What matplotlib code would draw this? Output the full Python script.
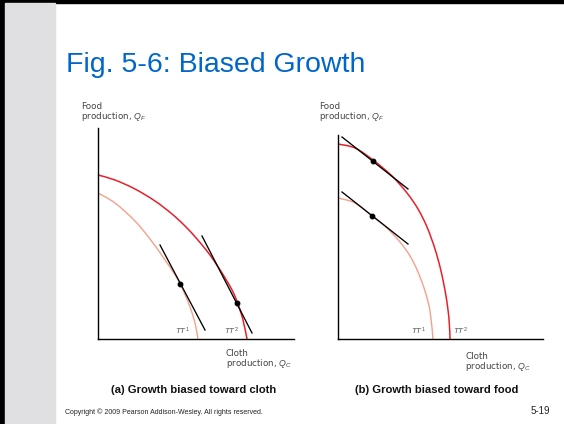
import numpy as np
import matplotlib.pyplot as plt
from matplotlib.patches import Rectangle, PathPatch
from matplotlib.path import Path

plt.rcParams['font.family'] = ['Liberation Sans', 'DejaVu Sans']
plt.rcParams['mathtext.fontset'] = 'custom'
plt.rcParams['mathtext.it'] = 'Liberation Sans:italic'
plt.rcParams['mathtext.rm'] = 'Liberation Sans'

W, H = 564, 424

# (a) growth biased toward cloth
a_ppf2_x = [0, 17, 37, 57, 74, 87, 99, 112, 124, 134, 140, 145, 149]
a_ppf2_y = [164, 159, 150, 138, 125, 113, 100, 84, 66, 49, 35, 19, 0]
a_ppf1_x = [0, 17, 37, 52, 65, 79, 85, 92, 97, 100]
a_ppf1_y = [146, 136, 118, 100, 82, 61, 49, 32, 16, 0]
a_tan1_x = [62, 107]
a_tan1_y = [94, 9]
a_tan2_x = [104, 154]
a_tan2_y = [103, 6]
a_dots_x = [82, 139]
a_dots_y = [55, 36]

# (b) growth biased toward food
b_ppf2_x = [0, 17, 35, 54, 69, 80, 89, 97, 103, 108, 111, 112]
b_ppf2_y = [195, 191, 179, 163, 146, 130, 112, 90, 68, 43, 20, 0]
b_ppf1_x = [0, 17, 34, 48, 62, 72, 80, 87, 92, 95]
b_ppf1_y = [141, 136, 123, 112, 97, 83, 67, 48, 28, 0]
b_tan1_x = [4, 70]
b_tan1_y = [147, 95]
b_tan2_x = [4, 70]
b_tan2_y = [202, 150]
b_dots_x = [34, 35]
b_dots_y = [123, 178]

RED = '#e8202a'
SALMON = '#f5a08c'
TXT = '#444444'


def px(x, y):
    return x / W, 1 - y / H


def smooth_path(xs, ys):
    # pass a cubic bezier through the read points (catmull-rom handles)
    p = np.column_stack([xs, ys]).astype(float)
    verts = [p[0]]
    codes = [Path.MOVETO]
    n = len(p)
    for i in range(n - 1):
        p0 = p[i - 1] if i > 0 else p[i]
        p3 = p[i + 2] if i + 2 < n else p[i + 1]
        c1 = p[i] + (p[i + 1] - p0) / 6
        c2 = p[i + 1] - (p3 - p[i]) / 6
        verts += [c1, c2, p[i + 1]]
        codes += [Path.CURVE4] * 3
    return Path(verts, codes)


fig = plt.figure(figsize=(5.64, 4.24), dpi=100)
fig.patch.set_facecolor('white')

# slide frame and marble strip
fig.patches.append(Rectangle((0, 0), 5 / W, 1, transform=fig.transFigure,
                             color='black', zorder=0))
fig.patches.append(Rectangle((0, 1 - 3 / H), 1, 3 / H, transform=fig.transFigure,
                             color='black', zorder=0))
fig.patches.append(Rectangle((5 / W, 0), 50 / W, 1 - 3 / H, transform=fig.transFigure,
                             color='#e0e0e2', zorder=0))

fig.text(*px(66, 72), 'Fig. 5-6: Biased Growth', fontsize=20.5,
         color='#0066cc', ha='left', va='baseline')


def panel(rect, xmax, ymax, ppf1, ppf2, tan1, tan2, dots, tt1, tt2):
    x0, y0, x1, y1 = rect
    ax = fig.add_axes([x0 / W, 1 - y1 / H, (x1 - x0) / W, (y1 - y0) / H])
    ax.set_xlim(0, xmax)
    ax.set_ylim(0, ymax)
    for s in ['top', 'right']:
        ax.spines[s].set_visible(False)
    for s in ['left', 'bottom']:
        ax.spines[s].set_linewidth(1.0)
    ax.set_xticks([])
    ax.set_yticks([])
    ax.patch.set_alpha(0)
    ax.add_patch(PathPatch(smooth_path(*ppf1), fill=False, edgecolor=SALMON,
                           lw=1.0, clip_on=False))
    ax.add_patch(PathPatch(smooth_path(*ppf2), fill=False, edgecolor=RED,
                           lw=1.1, clip_on=False))
    ax.plot(*tan1, color='black', lw=0.95, clip_on=False)
    ax.plot(*tan2, color='black', lw=0.95, clip_on=False)
    ax.plot(*dots, 'o', color='black', ms=3.2, clip_on=False)
    ax.text(tt1, 2, r'$TT^{1}$', fontsize=5.8, color='#555555', ha='center', va='bottom')
    ax.text(tt2, 2, r'$TT^{2}$', fontsize=5.8, color='#555555', ha='center', va='bottom')
    return ax


panel((98, 128, 294, 339), 196, 211,
      (a_ppf1_x, a_ppf1_y), (a_ppf2_x, a_ppf2_y),
      (a_tan1_x, a_tan1_y), (a_tan2_x, a_tan2_y),
      (a_dots_x, a_dots_y), 85, 134)
panel((338, 135, 543, 339), 205, 204,
      (b_ppf1_x, b_ppf1_y), (b_ppf2_x, b_ppf2_y),
      (b_tan1_x, b_tan1_y), (b_tan2_x, b_tan2_y),
      (b_dots_x, b_dots_y), 81, 123)

# axis captions
lab = dict(fontsize=6.3, color=TXT, ha='left', va='top', linespacing=0.9,
           family=['DejaVu Sans'])
fig.text(*px(81, 102), 'Food\nproduction, $Q_F$', **lab)
fig.text(*px(319, 102), 'Food\nproduction, $Q_F$', **lab)
fig.text(*px(226, 349), 'Cloth\nproduction, $Q_C$', **lab)
fig.text(*px(465, 352), 'Cloth\nproduction, $Q_C$', **lab)

fig.text(*px(194, 390), '(a) Growth biased toward cloth', fontsize=8.1,
         color='#111111', ha='center', va='center', fontweight='semibold')
fig.text(*px(437, 390), '(b) Growth biased toward food', fontsize=8.1,
         color='#111111', ha='center', va='center', fontweight='semibold')

fig.text(*px(65, 412), 'Copyright \u00a9 2009 Pearson Addison-Wesley. All rights reserved.',
         fontsize=5.0, color='#222222', ha='left', va='center')
fig.text(*px(550, 411), '5-19', fontsize=7, color='#222222', ha='right', va='center')

fig.savefig('out.png', dpi=100)
